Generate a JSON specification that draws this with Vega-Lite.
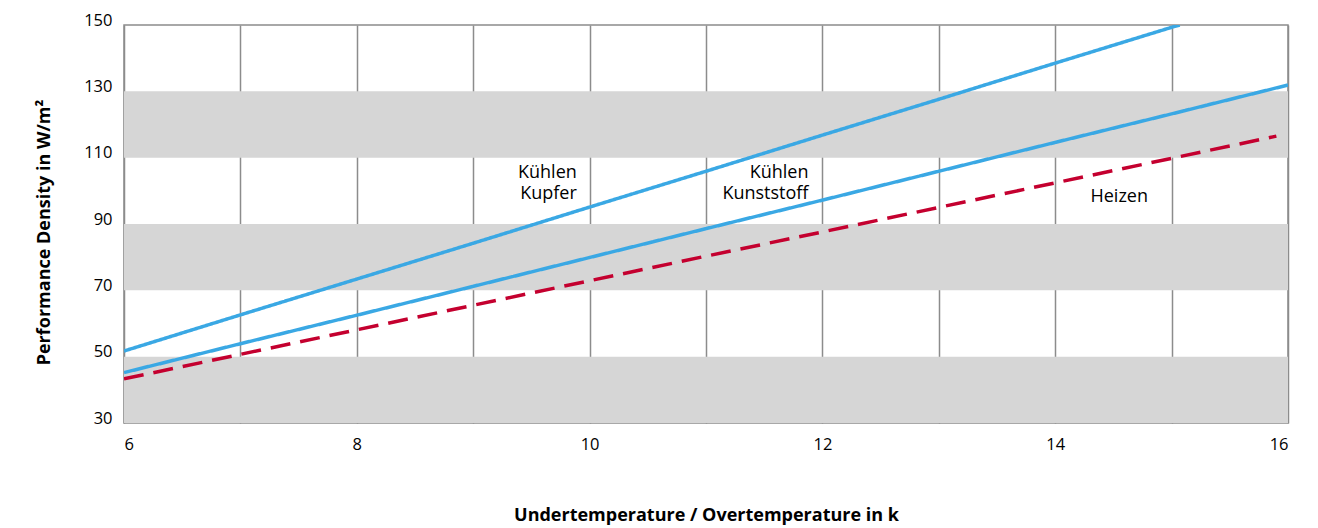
{
  "$schema": "https://vega.github.io/schema/vega-lite/v6.json",
  "width": 1164,
  "height": 398,
  "autosize": {"type": "none"},
  "padding": {"left": 124, "top": 25, "right": 30, "bottom": 105},
  "background": "white",
  "config": {
    "font": "Open Sans",
    "view": {"stroke": "#8c8c8c", "strokeWidth": 1.5}
  },
  "datasets": {
    "bands": [
      {"lo": 30, "hi": 50},
      {"lo": 70, "hi": 90},
      {"lo": 110, "hi": 130}
    ],
    "lines": [
      {"series": "Kühlen Kupfer", "t": 6, "p": 51.7},
      {"series": "Kühlen Kupfer", "t": 7, "p": 62.6},
      {"series": "Kühlen Kupfer", "t": 8, "p": 73.4},
      {"series": "Kühlen Kupfer", "t": 9, "p": 84.2},
      {"series": "Kühlen Kupfer", "t": 10, "p": 95.1},
      {"series": "Kühlen Kupfer", "t": 11, "p": 105.9},
      {"series": "Kühlen Kupfer", "t": 12, "p": 116.8},
      {"series": "Kühlen Kupfer", "t": 13, "p": 127.6},
      {"series": "Kühlen Kupfer", "t": 14, "p": 138.5},
      {"series": "Kühlen Kupfer", "t": 15, "p": 149.3},
      {"series": "Kühlen Kupfer", "t": 15.07, "p": 150},
      {"series": "Kühlen Kunststoff", "t": 6, "p": 45.2},
      {"series": "Kühlen Kunststoff", "t": 7, "p": 53.9},
      {"series": "Kühlen Kunststoff", "t": 8, "p": 62.5},
      {"series": "Kühlen Kunststoff", "t": 9, "p": 71.2},
      {"series": "Kühlen Kunststoff", "t": 10, "p": 79.9},
      {"series": "Kühlen Kunststoff", "t": 11, "p": 88.6},
      {"series": "Kühlen Kunststoff", "t": 12, "p": 97.2},
      {"series": "Kühlen Kunststoff", "t": 13, "p": 105.9},
      {"series": "Kühlen Kunststoff", "t": 14, "p": 114.6},
      {"series": "Kühlen Kunststoff", "t": 15, "p": 123.2},
      {"series": "Kühlen Kunststoff", "t": 16, "p": 131.9},
      {"series": "Heizen", "t": 6, "p": 43.3},
      {"series": "Heizen", "t": 7, "p": 50.7},
      {"series": "Heizen", "t": 8, "p": 58.1},
      {"series": "Heizen", "t": 9, "p": 65.5},
      {"series": "Heizen", "t": 10, "p": 72.9},
      {"series": "Heizen", "t": 11, "p": 80.3},
      {"series": "Heizen", "t": 12, "p": 87.6},
      {"series": "Heizen", "t": 13, "p": 95.0},
      {"series": "Heizen", "t": 14, "p": 102.4},
      {"series": "Heizen", "t": 15, "p": 109.8},
      {"series": "Heizen", "t": 15.9, "p": 116.5}
    ],
    "labelsRight": [
      {"label": "Kühlen", "t": 9.89, "p": 103.9},
      {"label": "Kupfer", "t": 9.89, "p": 97.5},
      {"label": "Kühlen", "t": 11.88, "p": 103.9},
      {"label": "Kunststoff", "t": 11.88, "p": 97.5}
    ],
    "labelsCenter": [
      {"label": "Heizen", "t": 14.55, "p": 96.6}
    ]
  },
  "layer": [
    {
      "data": {"name": "bands"},
      "mark": {"type": "rect", "color": "#d6d6d6"},
      "encoding": {
        "y": {
          "field": "lo",
          "type": "quantitative",
          "scale": {"domain": [30, 150], "nice": false, "zero": false},
          "axis": {
            "values": [30, 50, 70, 90, 110, 130, 150],
            "grid": false,
            "ticks": false,
            "domain": false,
            "labelFontSize": 16.5,
            "labelColor": "#000000",
            "labelPadding": 12,
            "labelBaseline": "alphabetic",
            "title": "Performance Density in W/m²",
            "titleFontSize": 18,
            "titleFontWeight": "bold",
            "titleColor": "#000000",
            "titlePadding": 30,
            "titleY": 207
          }
        },
        "y2": {"field": "hi"}
      }
    },
    {
      "data": {"name": "lines"},
      "mark": {"type": "line", "strokeWidth": 3.5, "clip": true},
      "encoding": {
        "x": {
          "field": "t",
          "type": "quantitative",
          "scale": {"domain": [6, 16], "nice": false, "zero": false},
          "axis": {
            "values": [6, 7, 8, 9, 10, 11, 12, 13, 14, 15, 16],
            "labelExpr": "datum.value % 2 == 0 ? format(datum.value, 'd') : ''",
            "grid": true,
            "gridColor": "#8c8c8c",
            "gridWidth": 1.5,
            "gridOpacity": 1,
            "ticks": false,
            "domain": false,
            "labelFlush": true,
            "labelFontSize": 16.5,
            "labelColor": "#000000",
            "labelPadding": 13,
            "title": "Undertemperature / Overtemperature in k",
            "titleFontSize": 18,
            "titleFontWeight": "bold",
            "titleColor": "#000000",
            "titlePadding": 54
          }
        },
        "y": {"field": "p", "type": "quantitative"},
        "detail": {"field": "series"},
        "color": {
          "field": "series",
          "type": "nominal",
          "scale": {
            "domain": ["Kühlen Kupfer", "Kühlen Kunststoff", "Heizen"],
            "range": ["#3aa8e4", "#3aa8e4", "#c4002f"]
          },
          "legend": null
        },
        "strokeDash": {
          "field": "series",
          "type": "nominal",
          "scale": {
            "domain": ["Kühlen Kupfer", "Kühlen Kunststoff", "Heizen"],
            "range": [[1, 0], [1, 0], [20, 10]]
          },
          "legend": null
        }
      }
    },
    {
      "data": {"name": "labelsRight"},
      "mark": {"type": "text", "fontSize": 18, "baseline": "alphabetic", "align": "right", "color": "#000000"},
      "encoding": {
        "x": {"field": "t", "type": "quantitative"},
        "y": {"field": "p", "type": "quantitative"},
        "text": {"field": "label"}
      }
    },
    {
      "data": {"name": "labelsCenter"},
      "mark": {"type": "text", "fontSize": 18, "baseline": "alphabetic", "align": "center", "color": "#000000"},
      "encoding": {
        "x": {"field": "t", "type": "quantitative"},
        "y": {"field": "p", "type": "quantitative"},
        "text": {"field": "label"}
      }
    }
  ]
}
